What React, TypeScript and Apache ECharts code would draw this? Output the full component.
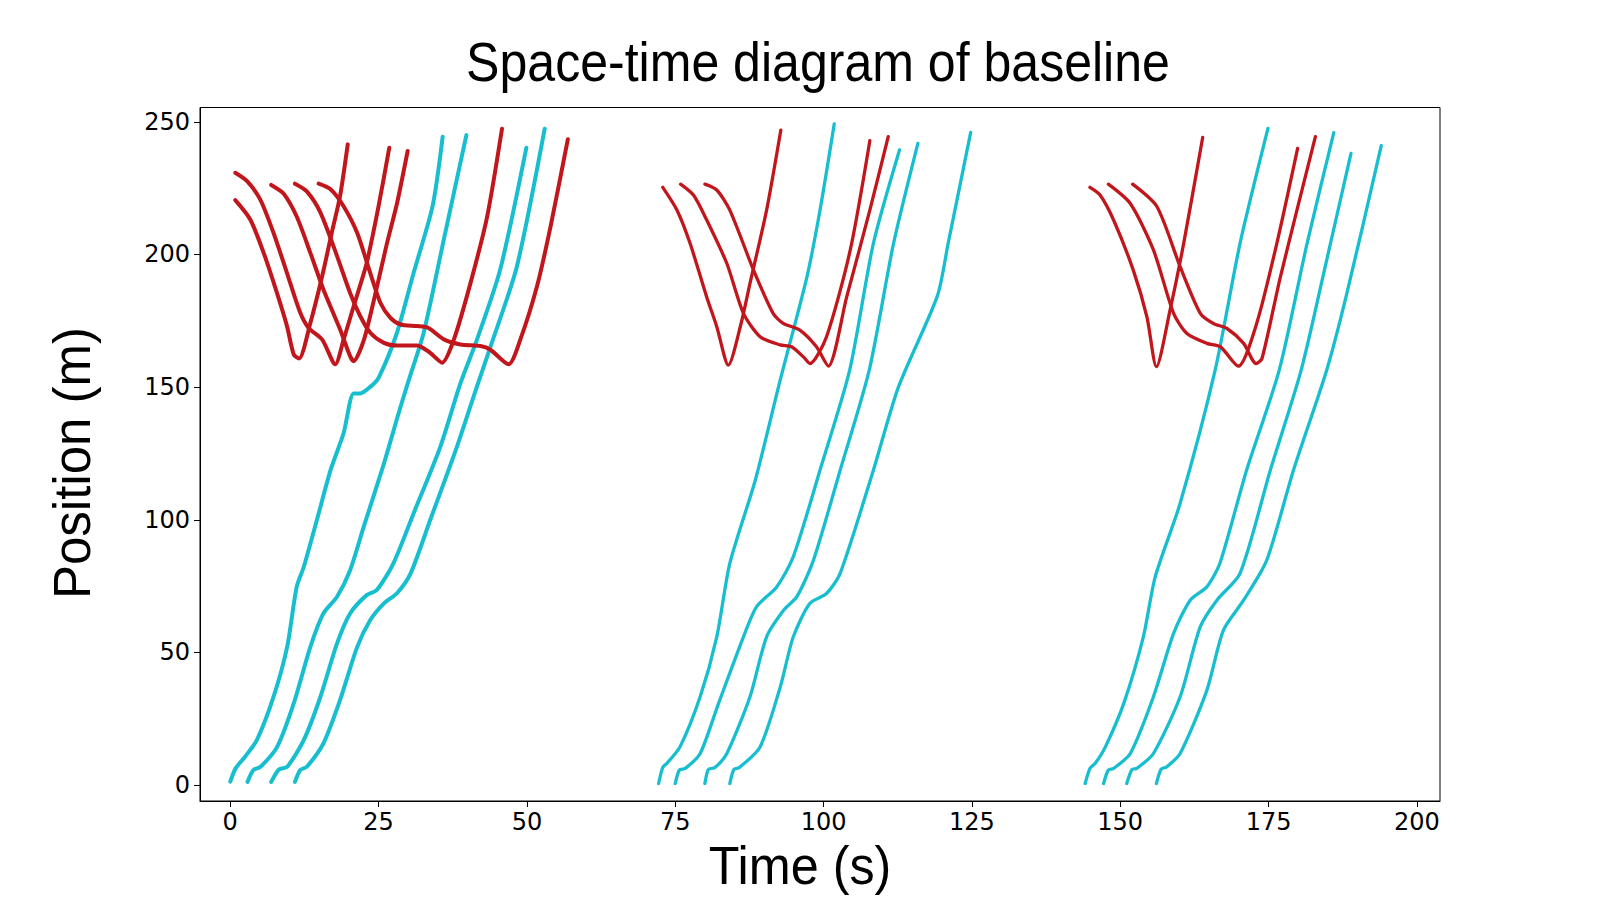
import React, { useEffect, useRef } from "react";
import * as echarts from "echarts";

// ---------- axis ticks ----------
const X_TICKS = [0, 25, 50, 75, 100, 125, 150, 175, 200];
const Y_TICKS = [0, 50, 100, 150, 200, 250];

// ---------- through vehicles (cyan): [time s, position m] ----------
const cyanG1V1 = [[0.0, 1.3], [0.9, 6.3], [2.5, 10.7], [4.5, 17.0], [7.3, 33.3], [9.6, 52.2], [11.2, 74.8], [12.4, 82.3], [14.6, 99.9], [16.9, 118.7], [19.1, 132.6], [20.8, 147.6], [21.9, 147.6], [23.6, 150.1], [25.0, 153.5], [28.1, 170.5], [30.9, 193.0], [34.1, 218.2], [35.8, 244.4]];
const cyanG1V2 = [[2.9, 1.2], [3.9, 5.7], [5.1, 6.9], [7.9, 14.4], [10.7, 30.8], [13.5, 52.1], [15.7, 64.7], [18.0, 71.0], [20.2, 81.0], [22.5, 97.4], [25.9, 121.2], [28.7, 142.6], [30.1, 152.7], [32.6, 170.5], [36.0, 205.7], [39.8, 245.0]];
const cyanG1V3 = [[6.9, 1.2], [8.2, 5.9], [9.6, 6.9], [12.4, 17.0], [15.2, 33.3], [18.0, 53.4], [20.2, 64.7], [23.0, 71.6], [24.7, 73.5], [27.5, 83.6], [30.9, 102.4], [35.4, 127.5], [38.8, 151.5], [41.6, 168.0], [45.5, 194.3], [49.9, 240.2]];
const cyanG1V4 = [[10.9, 1.2], [11.8, 5.7], [12.9, 6.9], [15.7, 15.7], [18.5, 32.0], [21.4, 52.1], [23.6, 62.2], [25.9, 68.5], [28.1, 72.3], [30.4, 79.8], [33.7, 99.9], [38.2, 127.5], [41.6, 150.4], [43.9, 165.5], [48.3, 195.4], [53.0, 247.4]];

const cyanG2V1 = [[72.2, 0.6], [72.9, 6.7], [73.6, 8.2], [75.8, 14.4], [79.2, 33.3], [82.0, 55.9], [84.2, 83.6], [88.5, 115.0], [92.7, 152.7], [97.2, 191.6], [99.4, 216.7], [101.8, 249.2]];
const cyanG2V2 = [[75.0, 0.6], [75.7, 5.7], [76.7, 6.3], [79.2, 11.9], [82.3, 30.8], [86.5, 55.9], [88.7, 67.2], [92.1, 74.7], [94.9, 86.1], [99.4, 118.7], [104.4, 156.4], [108.4, 204.2], [112.8, 239.4]];
const cyanG2V3 = [[80.0, 0.6], [80.6, 5.9], [81.7, 6.6], [83.7, 11.9], [87.6, 33.3], [90.4, 55.9], [93.3, 66.0], [95.5, 71.0], [98.3, 84.8], [102.8, 118.7], [107.7, 156.4], [111.8, 204.2], [115.9, 241.9]];
const cyanG2V4 = [[84.2, 0.6], [84.9, 5.9], [85.8, 6.6], [89.3, 14.4], [92.7, 37.0], [94.9, 55.9], [97.7, 68.5], [100.5, 72.2], [102.8, 79.8], [108.4, 118.7], [112.6, 149.9], [119.2, 184.5], [121.0, 204.2], [124.8, 246.0]];

const cyanG3V1 = [[144.1, 0.6], [144.9, 6.3], [145.8, 8.2], [147.5, 14.4], [150.6, 30.8], [153.9, 55.9], [155.9, 78.5], [160.1, 106.2], [166.0, 156.4], [170.2, 204.2], [174.9, 247.5]];
const cyanG3V2 = [[147.2, 0.6], [148.0, 5.7], [148.9, 6.3], [151.7, 11.9], [155.6, 33.3], [159.0, 57.2], [161.8, 69.7], [164.6, 74.7], [166.8, 83.6], [171.3, 118.7], [176.8, 156.4], [181.5, 204.2], [186.0, 245.9]];
const cyanG3V3 = [[151.1, 0.6], [152.0, 5.9], [152.8, 6.3], [155.6, 11.9], [160.1, 33.3], [163.5, 59.7], [166.3, 69.7], [170.2, 79.8], [175.3, 118.7], [180.5, 156.4], [184.8, 197.9], [188.9, 238.1]];
const cyanG3V4 = [[156.1, 0.6], [156.9, 6.0], [157.8, 6.8], [160.1, 11.9], [164.6, 35.7], [167.4, 58.4], [170.8, 69.7], [174.7, 84.8], [179.2, 118.7], [184.8, 156.4], [188.2, 185.3], [194.0, 241.0]];

// ---------- turning vehicles (red): [time s, position m] ----------
const redG1V1 = [[0.85, 220.5], [3.37, 213.2], [5.63, 200.6], [7.87, 185.5], [9.56, 173.0], [10.7, 162.3], [11.6, 160.8], [13.5, 174.2], [15.5, 191.9], [17.1, 208.1], [18.5, 221.9], [19.8, 241.5]];
const redG1V2 = [[0.85, 230.8], [2.8, 227.7], [5.06, 220.7], [7.3, 208.1], [9.56, 193.0], [11.8, 178.0], [13.2, 172.3], [15.5, 167.9], [17.7, 158.6], [19.1, 167.9], [20.8, 180.5], [23.0, 196.8], [25.0, 218.2], [26.8, 240.2]];
const redG1V3 = [[6.9, 226.2], [9.0, 222.9], [11.2, 214.3], [13.5, 200.6], [15.7, 186.8], [18.5, 171.8], [20.2, 161.7], [20.8, 159.8], [22.5, 167.6], [24.2, 182.7], [26.4, 204.1], [28.1, 219.2], [29.9, 239.0]];
const redG1V4 = [[10.9, 226.7], [12.9, 223.8], [15.2, 215.8], [18.0, 199.4], [20.2, 185.5], [21.9, 176.8], [23.6, 170.5], [25.9, 166.7], [28.1, 165.7], [31.5, 165.7], [33.7, 162.9], [35.7, 159.2], [37.7, 168.0], [40.5, 189.3], [43.3, 214.3], [45.8, 247.4]];
const redG1V5 = [[14.9, 226.7], [16.9, 224.6], [19.1, 218.2], [21.4, 208.1], [23.6, 193.0], [25.3, 181.8], [27.0, 176.1], [28.7, 173.6], [31.5, 173.0], [33.4, 172.3], [36.0, 168.0], [38.8, 166.1], [42.2, 165.5], [43.8, 164.2], [46.9, 158.6], [48.9, 168.0], [51.7, 188.0], [54.0, 210.7], [56.9, 243.4]];

const redG2V1 = [[72.9, 225.3], [75.3, 216.7], [77.5, 204.2], [80.3, 184.0], [82.0, 172.8], [83.95, 158.3], [86.1, 174.0], [87.6, 189.1], [90.4, 216.7], [92.8, 246.9]];
const redG2V2 = [[75.9, 226.5], [78.1, 222.3], [80.3, 213.0], [83.7, 196.6], [86.5, 177.8], [89.3, 169.0], [92.7, 165.9], [94.6, 165.2], [96.6, 161.4], [97.7, 158.9], [100.5, 169.0], [104.5, 201.7], [107.8, 242.9]];
const redG2V3 = [[80.0, 226.5], [82.0, 224.3], [84.2, 216.7], [88.2, 194.1], [91.5, 177.8], [93.2, 174.0], [96.0, 171.5], [98.8, 165.2], [100.8, 157.9], [103.9, 184.0], [107.8, 216.7], [110.9, 244.4]];

const redG3V1 = [[144.9, 225.3], [146.6, 222.4], [148.9, 212.9], [152.2, 194.1], [154.5, 176.5], [156.1, 157.7], [158.4, 179.0], [160.7, 204.2], [163.9, 244.1]];
const redG3V2 = [[148.0, 226.5], [151.7, 219.2], [155.6, 201.7], [159.0, 177.8], [161.2, 170.3], [164.6, 166.5], [166.9, 165.2], [169.9, 157.9], [173.0, 174.0], [176.4, 204.2], [179.9, 240.0]];
const redG3V3 = [[152.1, 226.5], [156.2, 218.0], [160.1, 195.4], [163.5, 177.8], [165.7, 174.0], [168.0, 172.1], [170.8, 166.5], [172.9, 158.9], [173.9, 160.8], [177.0, 191.6], [182.9, 244.4]];

const CYAN_VEHICLES = [cyanG1V1, cyanG1V2, cyanG1V3, cyanG1V4, cyanG2V1, cyanG2V2, cyanG2V3, cyanG2V4, cyanG3V1, cyanG3V2, cyanG3V3, cyanG3V4];
const RED_VEHICLES = [redG1V1, redG1V2, redG1V3, redG1V4, redG1V5, redG2V1, redG2V2, redG2V3, redG3V1, redG3V2, redG3V3];

const CYAN = "#17becf";
const RED = "#c1171c";
const TICK_FONT = "DejaVu Sans";
const LABEL_FONT = "Liberation Sans, Arial, sans-serif";

export default function App() {
  const ref = useRef<HTMLDivElement>(null);

  useEffect(() => {
    if (!ref.current) return;
    const chart = echarts.init(ref.current, undefined, { renderer: "svg" });

    const mk = (data: number[][], color: string, width: number) => ({
      type: "line",
      data,
      smooth: 0.25,
      symbol: "none",
      showSymbol: false,
      silent: true,
      lineStyle: { color, width, cap: "round", join: "round" },
    });

    chart.setOption({
      animation: false,
      backgroundColor: "#ffffff",
      grid: {
        left: 200,
        top: 107.5,
        right: 160,
        bottom: 99,
        show: true,
        borderColor: "#000",
        borderWidth: 1,
        backgroundColor: "transparent",
      },
      xAxis: {
        type: "value",
        min: -5.1,
        max: 203.9,
        axisLine: { show: true, onZero: false, lineStyle: { color: "#000", width: 1 } },
        axisTick: { show: true, length: 6, lineStyle: { color: "#000", width: 1 }, customValues: X_TICKS },
        axisLabel: { color: "#000", fontFamily: TICK_FONT, fontSize: 24, margin: 9, customValues: X_TICKS },
        splitLine: { show: false },
      },
      yAxis: {
        type: "value",
        min: -6,
        max: 255.4,
        axisLine: { show: true, onZero: false, lineStyle: { color: "#000", width: 1 } },
        axisTick: { show: true, length: 6, lineStyle: { color: "#000", width: 1 }, customValues: Y_TICKS },
        axisLabel: { color: "#000", fontFamily: TICK_FONT, fontSize: 24, margin: 10, customValues: Y_TICKS },
        splitLine: { show: false },
      },
      graphic: [
        {
          type: "text",
          x: 818,
          y: 62,
          scaleX: 0.91,
          style: {
            text: "Space-time diagram of baseline",
            font: `55px ${LABEL_FONT}`,
            fill: "#000",
            align: "center",
            verticalAlign: "middle",
          },
        },
        {
          type: "text",
          x: 800,
          y: 866,
          scaleX: 0.95,
          style: {
            text: "Time (s)",
            font: `53px ${LABEL_FONT}`,
            fill: "#000",
            align: "center",
            verticalAlign: "middle",
          },
        },
        {
          type: "text",
          x: 72,
          y: 463,
          rotation: Math.PI / 2,
          style: {
            text: "Position (m)",
            font: `51px ${LABEL_FONT}`,
            fill: "#000",
            align: "center",
            verticalAlign: "middle",
          },
        },
      ],
      series: [
        ...CYAN_VEHICLES.map((d, i) => mk(d, CYAN, i < 4 ? 4 : 3.3)),
        ...RED_VEHICLES.map((d, i) => mk(d, RED, i < 5 ? 4 : 3.3)),
      ],
    });

    return () => chart.dispose();
  }, []);

  return (
    <div
      ref={ref}
      style={{ position: "fixed", left: 0, top: 0, width: 1600, height: 900, background: "#fff" }}
    />
  );
}
